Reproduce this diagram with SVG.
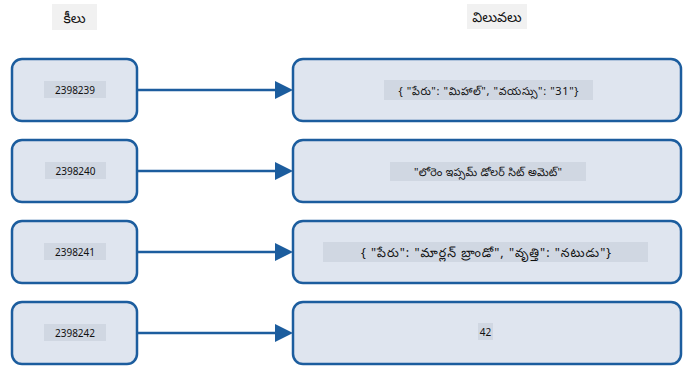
<svg xmlns="http://www.w3.org/2000/svg" width="698" height="382" viewBox="0 0 698 382">
<defs>
<style>
.box{fill:#dfe5ef;stroke:#1c5d9e;stroke-width:2.5}
.lbg{fill:#d0d7e2}
.hbg{fill:#f1f1f1}
.t{font-family:"Noto Sans","Noto Sans Telugu","Open Sans",sans-serif;font-size:10px;fill:#111;text-anchor:middle;dominant-baseline:central}
.v{font-size:11px}
.w{font-size:12.5px}
.h{font-family:"Noto Sans","Noto Sans Telugu","Open Sans",sans-serif;font-size:14px;fill:#111;text-anchor:middle;dominant-baseline:central}
.c{stroke:#1c5d9e;stroke-width:2.5;fill:none}
</style>
</defs>
<g id="header-keys"><rect class="hbg" x="52" y="4" width="45" height="26"/><text class="h" x="74.5" y="17">కీలు</text></g>
<g id="header-values"><rect class="hbg" x="467" y="4" width="60" height="25"/><text class="h" x="497" y="16.5">విలువలు</text></g>
<g id="connectors">
<path class="c" d="M137,90 H277"/>
<path d="M275,81 L293,90 L275,99 Z" fill="#1c5d9e"/>
<path class="c" d="M137,171 H277"/>
<path d="M275,162 L293,171 L275,180 Z" fill="#1c5d9e"/>
<path class="c" d="M137,252 H277"/>
<path d="M275,243 L293,252 L275,261 Z" fill="#1c5d9e"/>
<path class="c" d="M137,333 H277"/>
<path d="M275,324 L293,333 L275,342 Z" fill="#1c5d9e"/>
</g>
<g id="key1"><rect class="box" x="12" y="59" width="125" height="62" rx="10"/><rect class="lbg" x="44" y="81" width="62" height="17"/><text class="t" x="75" y="89.5">2398239</text></g>
<g id="key2"><rect class="box" x="12" y="140" width="125" height="62" rx="10"/><rect class="lbg" x="45" y="162" width="61" height="17"/><text class="t" x="75.5" y="170.5">2398240</text></g>
<g id="key3"><rect class="box" x="12" y="221" width="125" height="62" rx="10"/><rect class="lbg" x="44" y="243" width="62" height="17"/><text class="t" x="75" y="251.5">2398241</text></g>
<g id="key4"><rect class="box" x="12" y="302" width="125" height="62" rx="10"/><rect class="lbg" x="44" y="324" width="62" height="17"/><text class="t" x="75" y="332.5">2398242</text></g>
<g id="value1"><rect class="box" x="293" y="59" width="388" height="62" rx="10"/><rect class="lbg" x="384" y="80" width="209" height="20"/><text class="t v" x="488.5" y="90" textLength="180" lengthAdjust="spacing">{ "పేరు": "మిహాల్", "వయస్సు": "31"}</text></g>
<g id="value2"><rect class="box" x="293" y="140" width="388" height="62" rx="10"/><rect class="lbg" x="390" y="162" width="196" height="19"/><text class="t v" x="488" y="171.5" textLength="148" lengthAdjust="spacing">"లోరెం ఇప్సమ్ డోలర్ సిట్ అమెట్"</text></g>
<g id="value3"><rect class="box" x="293" y="221" width="388" height="62" rx="10"/><rect class="lbg" x="323" y="242" width="325" height="20"/><text class="t w" x="486" y="252" textLength="250" lengthAdjust="spacing">{ "పేరు": "మార్లన్ బ్రాండో", "వృత్తి": "నటుడు"}</text></g>
<g id="value4"><rect class="box" x="293" y="302" width="388" height="62" rx="10"/><rect class="lbg" x="478" y="323" width="15" height="17"/><text class="t" x="485.5" y="331.5">42</text></g>
</svg>
